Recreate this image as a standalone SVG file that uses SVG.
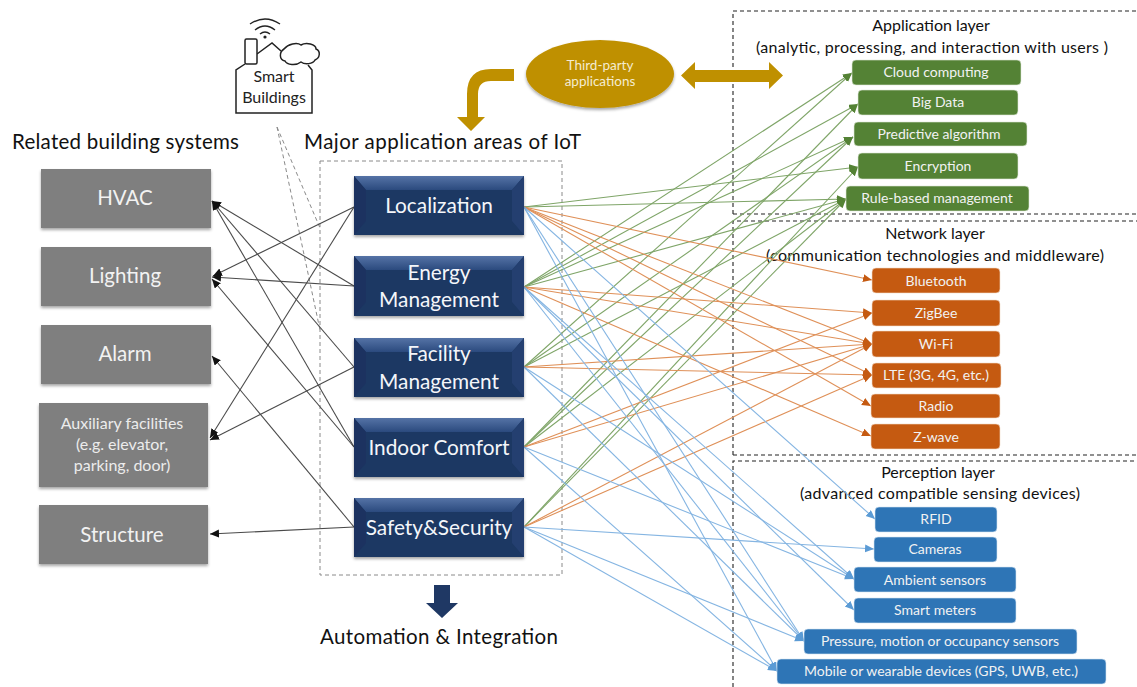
<svg xmlns="http://www.w3.org/2000/svg" width="1137" height="687" viewBox="0 0 1137 687">
<style>
text{font-family:"Lato","Liberation Sans",sans-serif;text-anchor:middle}
.h{font-size:20.5px;fill:#111}
.lay{font-size:16px;fill:#111}
.sys{fill:#7f7f7f;filter:url(#sh)}
.sys-t{fill:#f2f2f2;font-size:20.5px}
.sys-s{fill:#ececec;font-size:16px}
.area-t{fill:#f4f6fa;font-size:20.8px}
.chip{font-size:14px;fill:#f2f2f2}
.g{fill:#548235;stroke:#dfe8d8;stroke-width:.6}
.o{fill:#c55a11;stroke:#f2dccb;stroke-width:.6}
.b{fill:#2e75b6;stroke:#d5e4f2;stroke-width:.6}
.lk{stroke:#4a4a4a;stroke-width:1.1;fill:none;marker-end:url(#mk)}
.lg{stroke:#7fa568;stroke-width:1.1;fill:none;marker-end:url(#mg)}
.lo{stroke:#df9058;stroke-width:1.1;fill:none;marker-end:url(#mo)}
.lb{stroke:#85b5e2;stroke-width:1.1;fill:none;marker-end:url(#mb)}
.dg{stroke:#8a8a8a;stroke-width:1;stroke-dasharray:4 3;fill:none}
.dk{stroke:#222;stroke-width:1.1;stroke-dasharray:4 3;fill:none}
.ic{stroke:#222;stroke-width:1.5;fill:#fff}
.il{stroke:#222;stroke-width:1.5;fill:none}
</style>
<defs>
<filter id="sh" x="-5%" y="-5%" width="110%" height="120%"><feDropShadow dx="0" dy="2" stdDeviation="1.5" flood-color="#000" flood-opacity=".35"/></filter>
<linearGradient id="top" x1="0" y1="0" x2="0" y2="1"><stop offset="0" stop-color="#5573a6"/><stop offset="1" stop-color="#2b4a7e"/></linearGradient>
<marker id="mk" markerUnits="userSpaceOnUse" markerWidth="10" markerHeight="10" refX="9" refY="4" orient="auto"><path d="M0 0L9 4L0 8z" fill="#111"/></marker>
<marker id="mg" markerUnits="userSpaceOnUse" markerWidth="10" markerHeight="10" refX="9" refY="4" orient="auto"><path d="M0 0L9 4L0 8z" fill="#548235"/></marker>
<marker id="mo" markerUnits="userSpaceOnUse" markerWidth="10" markerHeight="10" refX="9" refY="4" orient="auto"><path d="M0 0L9 4L0 8z" fill="#c55a11"/></marker>
<marker id="mb" markerUnits="userSpaceOnUse" markerWidth="10" markerHeight="10" refX="9" refY="4" orient="auto"><path d="M0 0L9 4L0 8z" fill="#5b9bd5"/></marker>
</defs>
<rect width="1137" height="687" fill="#fff"/>

<g id="frames">
<path class="dk" d="M733 214V11H1137M733 214H1137"/>
<path class="dk" d="M733 455V221H1137M733 455H1137"/>
<path class="dk" d="M733 687V461H1137"/>
<rect class="dg" x="320" y="161" width="242" height="414"/>
<path class="dg" d="M277 127L320 228M277 127L320 330"/>
</g>

<g id="headings">
<text class="h" x="125.500" y="149" textLength="227">Related building systems</text>
<text class="h" x="442.500" y="149" textLength="277">Major application areas of IoT</text>
<text class="h" x="439" y="644" textLength="238">Automation &amp; Integration</text>
<text class="lay" x="931" y="31">Application layer</text>
<text class="lay" x="932" y="53" textLength="352">(analytic, processing, and interaction with users )</text>
<text class="lay" x="935" y="239">Network layer</text>
<text class="lay" x="935" y="261" textLength="338">(communication technologies and middleware)</text>
<text class="lay" x="938" y="478">Perception layer</text>
<text class="lay" x="940" y="499" textLength="280">(advanced compatible sensing devices)</text>
</g>

<g id="connectors">
<line class="lk" x1="354" y1="207" x2="213" y2="276"/>
<line class="lk" x1="354" y1="207" x2="210" y2="438"/>
<line class="lk" x1="354" y1="286" x2="212" y2="201"/>
<line class="lk" x1="354" y1="286" x2="212" y2="277"/>
<line class="lk" x1="354" y1="367" x2="212" y2="201"/>
<line class="lk" x1="354" y1="367" x2="210" y2="440"/>
<line class="lk" x1="354" y1="447" x2="212" y2="201"/>
<line class="lk" x1="354" y1="447" x2="212" y2="279"/>
<line class="lk" x1="354" y1="527" x2="212" y2="356"/>
<line class="lk" x1="354" y1="527" x2="210" y2="534"/>

<line class="lg" x1="524" y1="207" x2="858" y2="167"/>
<line class="lg" x1="524" y1="207" x2="846" y2="199"/>
<line class="lg" x1="524" y1="287" x2="852" y2="73"/>
<line class="lg" x1="524" y1="287" x2="858" y2="104"/>
<line class="lg" x1="524" y1="287" x2="853" y2="137"/>
<line class="lg" x1="524" y1="287" x2="846" y2="199"/>
<line class="lg" x1="524" y1="367" x2="852" y2="73"/>
<line class="lg" x1="524" y1="367" x2="853" y2="137"/>
<line class="lg" x1="524" y1="367" x2="846" y2="199"/>
<line class="lg" x1="524" y1="447" x2="858" y2="104"/>
<line class="lg" x1="524" y1="447" x2="853" y2="137"/>
<line class="lg" x1="524" y1="447" x2="846" y2="199"/>
<line class="lg" x1="524" y1="527" x2="858" y2="167"/>
<line class="lg" x1="524" y1="527" x2="846" y2="199"/>

<line class="lo" x1="524" y1="207" x2="872" y2="280"/>
<line class="lo" x1="524" y1="207" x2="872" y2="344"/>
<line class="lo" x1="524" y1="207" x2="872" y2="375"/>
<line class="lo" x1="524" y1="207" x2="871" y2="406"/>
<line class="lo" x1="524" y1="287" x2="872" y2="313"/>
<line class="lo" x1="524" y1="287" x2="872" y2="344"/>
<line class="lo" x1="524" y1="287" x2="871" y2="436"/>
<line class="lo" x1="524" y1="367" x2="872" y2="344"/>
<line class="lo" x1="524" y1="367" x2="872" y2="375"/>
<line class="lo" x1="524" y1="447" x2="872" y2="313"/>
<line class="lo" x1="524" y1="447" x2="872" y2="344"/>
<line class="lo" x1="524" y1="527" x2="872" y2="344"/>
<line class="lo" x1="524" y1="527" x2="872" y2="375"/>

<line class="lb" x1="524" y1="207" x2="875" y2="519"/>
<line class="lb" x1="524" y1="207" x2="804" y2="641"/>
<line class="lb" x1="524" y1="207" x2="777" y2="671"/>
<line class="lb" x1="524" y1="287" x2="854" y2="579"/>
<line class="lb" x1="524" y1="287" x2="854" y2="610"/>
<line class="lb" x1="524" y1="287" x2="804" y2="641"/>
<line class="lb" x1="524" y1="367" x2="854" y2="579"/>
<line class="lb" x1="524" y1="367" x2="804" y2="641"/>
<line class="lb" x1="524" y1="447" x2="854" y2="579"/>
<line class="lb" x1="524" y1="447" x2="777" y2="671"/>
<line class="lb" x1="524" y1="527" x2="874" y2="549"/>
<line class="lb" x1="524" y1="527" x2="804" y2="641"/>
<line class="lb" x1="524" y1="527" x2="777" y2="671"/>
</g>

<g id="smart-buildings">
<path class="il" d="M245 64L236 70V113H312V70L308 65M257 54L272 43L281 51"/>
<rect class="ic" x="245" y="39" width="12" height="25" rx="1.500"/>
<path class="ic" d="M284 49C288 44 297 42 301 45C306 42 316 44 316 49C321 51 320 58 315 60C313 64 305 65 301 62C296 66 287 65 285 61C279 60 279 52 284 49Z"/>
<path d="M250 24Q265 14 280 24M255 30Q265 22 275 30M260 34Q265 30 270 34" fill="none" stroke="#222" stroke-width="1.400"/>
<circle cx="265" cy="37" r="1.600" fill="#222"/>
<text x="274" y="82" font-size="16" fill="#222">Smart</text>
<text x="274" y="103" font-size="16" fill="#222">Buildings</text>
</g>

<g id="third-party">
<ellipse cx="600" cy="74" rx="74" ry="34" fill="#bf9000" filter="url(#sh)"/>
<text x="600" y="70" font-size="13.500" fill="#f5ecd0">Third-party</text>
<text x="600" y="86" font-size="13.500" fill="#f5ecd0">applications</text>
</g>
<path id="arrow-down-left" fill="#bf9000" d="M514 69V81H491Q478 81 478 94V117H485L471 131L457 117H467V94Q467 69 491 69Z"/>
<path id="arrow-both" fill="#bf9000" d="M681 75.500L695 62V70H769V62L783 75.500L769 89V82H695V89Z"/>
<path id="arrow-auto" fill="#1f3864" d="M434 585H450V603H458L442 618L426 603H434Z"/>

<g id="hvac"><rect class="sys" x="41" y="169" width="170" height="59"/><text class="sys-t" x="125" y="205">HVAC</text></g>
<g id="lighting"><rect class="sys" x="41" y="247" width="170" height="59"/><text class="sys-t" x="125" y="283">Lighting</text></g>
<g id="alarm"><rect class="sys" x="41" y="325" width="170" height="59"/><text class="sys-t" x="125" y="361">Alarm</text></g>
<g id="auxiliary"><rect class="sys" x="39" y="403" width="169" height="84"/><text class="sys-s" x="122" y="429">Auxiliary facilities</text><text class="sys-s" x="122" y="450">(e.g. elevator,</text><text class="sys-s" x="122" y="471">parking, door)</text></g>
<g id="structure"><rect class="sys" x="39" y="505" width="169" height="59"/><text class="sys-t" x="122" y="542">Structure</text></g>

<g id="localization"><rect x="354" y="176" width="170" height="59" fill="#1f3864" filter="url(#sh)"/><path d="M354 176H524L512 190H366Z" fill="url(#top)"/><path d="M354 176L366 190V221L354 235Z" fill="#1c3260"/><path d="M524 176L512 190V221L524 235Z" fill="#243f70"/><text class="area-t" x="439" y="213">Localization</text></g>
<g id="energy"><rect x="354" y="256" width="170" height="60" fill="#1f3864" filter="url(#sh)"/><path d="M354 256H524L512 270H366Z" fill="url(#top)"/><path d="M354 256L366 270V302L354 316Z" fill="#1c3260"/><path d="M524 256L512 270V302L524 316Z" fill="#243f70"/><text class="area-t" x="439" y="280">Energy</text><text class="area-t" x="439" y="307">Management</text></g>
<g id="facility"><rect x="354" y="338" width="170" height="59" fill="#1f3864" filter="url(#sh)"/><path d="M354 338H524L512 352H366Z" fill="url(#top)"/><path d="M354 338L366 352V383L354 397Z" fill="#1c3260"/><path d="M524 338L512 352V383L524 397Z" fill="#243f70"/><text class="area-t" x="439" y="361">Facility</text><text class="area-t" x="439" y="389">Management</text></g>
<g id="indoor"><rect x="354" y="418" width="170" height="59" fill="#1f3864" filter="url(#sh)"/><path d="M354 418H524L512 432H366Z" fill="url(#top)"/><path d="M354 418L366 432V463L354 477Z" fill="#1c3260"/><path d="M524 418L512 432V463L524 477Z" fill="#243f70"/><text class="area-t" x="439" y="455">Indoor Comfort</text></g>
<g id="safety"><rect x="354" y="498" width="170" height="59" fill="#1f3864" filter="url(#sh)"/><path d="M354 498H524L512 512H366Z" fill="url(#top)"/><path d="M354 498L366 512V543L354 557Z" fill="#1c3260"/><path d="M524 498L512 512V543L524 557Z" fill="#243f70"/><text class="area-t" x="439" y="535">Safety&amp;Security</text></g>

<g id="cloud"><rect class="g" x="852" y="60" width="169" height="25" rx="4"/><text class="chip" x="936" y="77">Cloud computing</text></g>
<g id="bigdata"><rect class="g" x="858" y="90" width="160" height="25" rx="4"/><text class="chip" x="938" y="107">Big Data</text></g>
<g id="predictive"><rect class="g" x="854" y="122" width="173" height="24" rx="4"/><text class="chip" x="939" y="139">Predictive algorithm</text></g>
<g id="encryption"><rect class="g" x="858" y="153" width="160" height="26" rx="4"/><text class="chip" x="938" y="171">Encryption</text></g>
<g id="rule"><rect class="g" x="846" y="186" width="183" height="25" rx="4"/><text class="chip" x="937" y="203">Rule-based management</text></g>

<g id="bluetooth"><rect class="o" x="872" y="268" width="128" height="25" rx="4"/><text class="chip" x="936" y="286">Bluetooth</text></g>
<g id="zigbee"><rect class="o" x="872" y="300" width="128" height="26" rx="4"/><text class="chip" x="936" y="318">ZigBee</text></g>
<g id="wifi"><rect class="o" x="872" y="331" width="128" height="26" rx="4"/><text class="chip" x="936" y="349">Wi-Fi</text></g>
<g id="lte"><rect class="o" x="872" y="363" width="129" height="25" rx="4"/><text class="chip" x="936" y="380">LTE (3G, 4G, etc.)</text></g>
<g id="radio"><rect class="o" x="871" y="394" width="129" height="24" rx="4"/><text class="chip" x="936" y="411">Radio</text></g>
<g id="zwave"><rect class="o" x="871" y="424" width="129" height="25" rx="4"/><text class="chip" x="936" y="442">Z-wave</text></g>

<g id="rfid"><rect class="b" x="875" y="507" width="122" height="25" rx="4"/><text class="chip" x="936" y="524">RFID</text></g>
<g id="cameras"><rect class="b" x="874" y="537" width="123" height="25" rx="4"/><text class="chip" x="935" y="554">Cameras</text></g>
<g id="ambient"><rect class="b" x="854" y="567" width="162" height="25" rx="4"/><text class="chip" x="935" y="585">Ambient sensors</text></g>
<g id="meters"><rect class="b" x="854" y="598" width="162" height="25" rx="4"/><text class="chip" x="935" y="615">Smart meters</text></g>
<g id="pressure"><rect class="b" x="804" y="629" width="273" height="25" rx="4"/><text class="chip" x="940" y="646">Pressure, motion or occupancy sensors</text></g>
<g id="mobile"><rect class="b" x="777" y="659" width="329" height="25" rx="4"/><text class="chip" x="941" y="676">Mobile or wearable devices (GPS, UWB, etc.)</text></g>
</svg>
